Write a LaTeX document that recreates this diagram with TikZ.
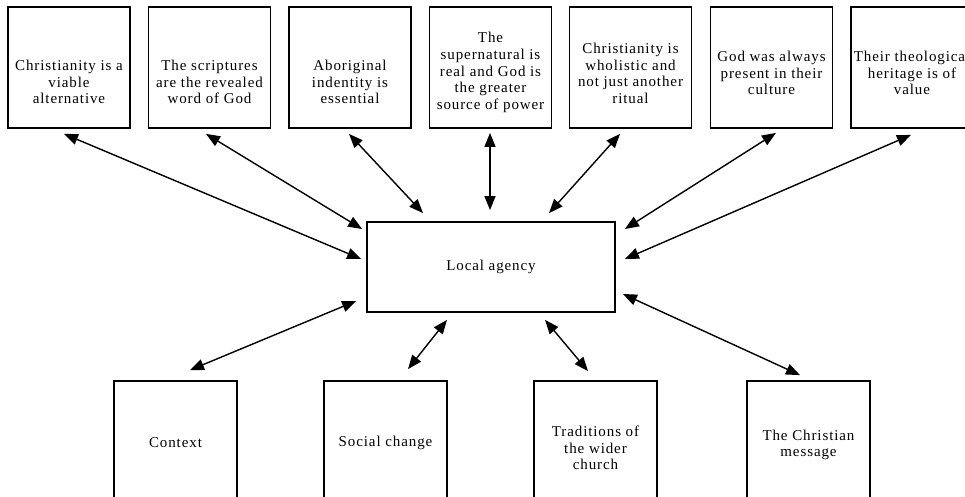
\documentclass[tikz,border=0pt]{standalone}
\usepackage{fontspec}
\setmainfont{Liberation Serif}[LetterSpace=6]
\usetikzlibrary{arrows.meta}

\begin{document}
\begin{tikzpicture}[x=1pt, y=-1pt,
        every node/.style={align=center, font=\fontsize{15}{16.7}\selectfont},
        topbox/.style={draw, line width=1.8pt, minimum width=122pt, minimum height=121pt, inner sep=1pt},
        lowbox/.style={draw, line width=1.8pt, minimum width=123pt, minimum height=124pt, inner sep=1pt},
        link/.style={{Triangle[length=14pt,width=11pt]}-{Triangle[length=14pt,width=11pt]}, line width=1.4pt}
    ]
        \useasboundingbox (0,0) rectangle (965,497);
        \clip (0,0) rectangle (965,497);

        % Beliefs
        \node[topbox, text height=73pt] (viable) at (69,67.5) {Christianity is a\\viable\\alternative};
        \node[topbox, text height=73pt] (scripture) at (209.5,67.5) {The scriptures\\are the revealed\\word of God};
        \node[topbox, text height=73pt] (identity) at (350,67.5) {Aboriginal\\indentity is\\essential};
        \node[topbox, text height=87pt] (power) at (490.5,67.5) {The\\supernatural is\\real and God is\\the greater\\source of power};
        \node[topbox, text height=72pt] (wholistic) at (630.5,67.5) {Christianity is\\wholistic and\\not just another\\ritual};
        \node[topbox, text height=55pt] (culture) at (771.5,67.5) {God was always\\present in their\\culture};
        \node[topbox, text height=55pt] (heritage) at (912,67.5) {Their theological\\heritage is of\\value};

        % Centre
        \node[draw, line width=1.8pt, minimum width=248pt, minimum height=90pt] (agency) at (491,267) {Local agency};

        % Influences
        \node[lowbox] (context) at (175.5,443) {Context};
        \node[lowbox] (social) at (385.5,443) {Social change};
        \node[lowbox, text height=54pt] (traditions) at (595.5,443) {Traditions of\\the wider\\church};
        \node[lowbox, text height=31pt] (message) at (808.5,443) {The Christian\\message};

        % Arrows
        \draw[link] ([xshift=-5pt,yshift=-5pt]viable.south) -- ([xshift=-5pt,yshift=8pt]agency.west);
        \draw[link] ([xshift=-3.5pt,yshift=-5pt]scripture.south) -- ([xshift=-4pt,yshift=38pt]agency.west);
        \draw[link] ([xshift=-1pt,yshift=-5pt]identity.south) -- ([xshift=-68pt,yshift=8pt]agency.north);
        \draw[link] ([xshift=-0.5pt,yshift=-4pt]power.south) -- ([xshift=-1pt,yshift=11pt]agency.north);
        \draw[link] ([xshift=-10.5pt,yshift=-5pt]wholistic.south) -- ([xshift=58pt,yshift=8pt]agency.north);
        \draw[link] ([xshift=4.5pt,yshift=-4pt]culture.south) -- ([xshift=9pt,yshift=38pt]agency.east);
        \draw[link] ([xshift=-1pt,yshift=-6pt]heritage.south) -- ([xshift=9pt,yshift=8pt]agency.east);

        \draw[link] ([xshift=14.5pt,yshift=10pt]context.north) -- ([xshift=-10pt,yshift=-34pt]agency.west);
        \draw[link] ([xshift=22.5pt,yshift=11pt]social.north) -- ([xshift=-44pt,yshift=-7pt]agency.south);
        \draw[link] ([xshift=-7.5pt,yshift=9pt]traditions.north) -- ([xshift=54pt,yshift=-7pt]agency.south);
        \draw[link] ([xshift=-8.5pt,yshift=5pt]message.north) -- ([xshift=7pt,yshift=-27pt]agency.east);
    \end{tikzpicture}
\end{document}
